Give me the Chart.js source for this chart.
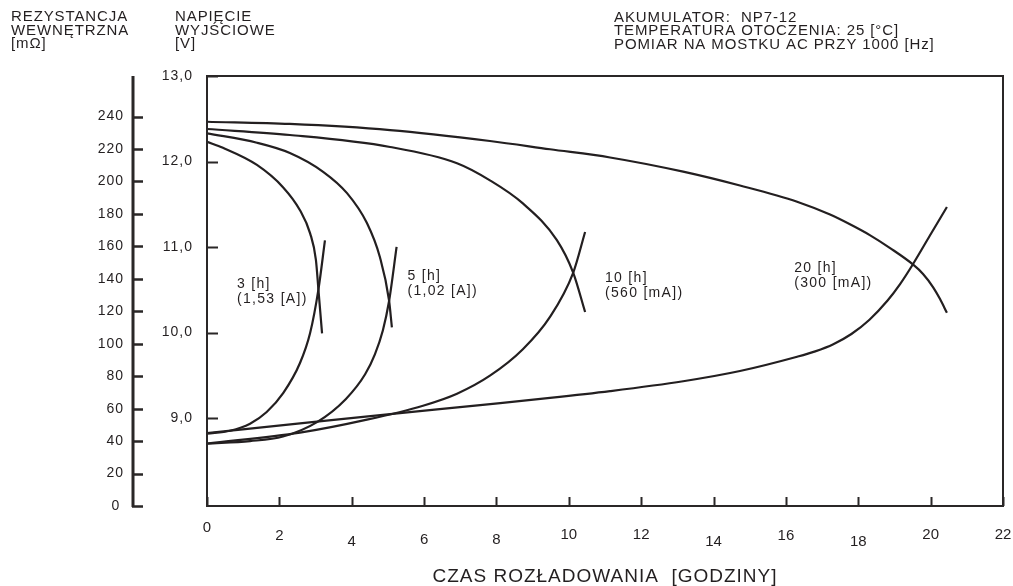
<!DOCTYPE html>
<html>
<head>
<meta charset="utf-8">
<title>NP7-12 – charakterystyka rozładowania</title>
<script src="https://cdn.jsdelivr.net/npm/chart.js@4/dist/chart.umd.min.js"></script>
<style>
  html, body { margin: 0; padding: 0; background: #fff; }
  #wrap { width: 1013px; height: 586px; }
</style>
</head>
<body>
<div id="wrap"><canvas id="chart" width="1013" height="586"></canvas></div>
<script>
// ---- axis ticks -------------------------------------------------------
const xTicks = [0, 2, 4, 6, 8, 10, 12, 14, 16, 18, 20, 22];
const xTickLabels = ['0', '2', '4', '6', '8', '10', '12', '14', '16', '18', '20', '22'];
const voltTicks = [9, 10, 11, 12, 13];
const voltTickLabels = ['9,0', '10,0', '11,0', '12,0', '13,0'];
const resTicks = [0, 20, 40, 60, 80, 100, 120, 140, 160, 180, 200, 220, 240];
const resTickLabels = ['0', '20', '40', '60', '80', '100', '120', '140', '160', '180', '200', '220', '240'];

// ---- discharge curves: time [h] -> voltage [V] ----------------------
const t3V = [0, 0.44, 1.38, 2.10, 2.57, 2.85, 3.01, 3.08, 3.18];
const v3 = [12.23, 12.16, 11.96, 11.70, 11.43, 11.16, 10.85, 10.50, 9.99];
const t5V = [0, 1.38, 2.29, 3.21, 3.87, 4.42, 4.78, 5.03, 5.11];
const v5 = [12.33, 12.22, 12.10, 11.88, 11.63, 11.28, 10.88, 10.38, 10.06];
const t10V = [0, 2.29, 5.06, 6.91, 7.82, 8.73, 9.67, 10.12, 10.45];
const v10 = [12.38, 12.31, 12.17, 11.98, 11.78, 11.51, 11.08, 10.70, 10.24];
const t20V = [0, 2.29, 5.06, 7.82, 9.48, 11.14, 13.16, 14.73, 16.31, 17.22, 17.77, 18.33, 18.88, 19.51, 19.79, 20.07, 20.26, 20.45];
const v20 = [12.465, 12.439, 12.368, 12.240, 12.143, 12.047, 11.881, 11.719, 11.530, 11.379, 11.265, 11.136, 10.987, 10.796, 10.685, 10.529, 10.391, 10.230];

// ---- internal resistance: time [h] -> resistance [mΩ] ---------------
const t3R = [0, 0.64, 1.19, 1.65, 2.11, 2.57, 2.85, 3.08, 3.26];
const r3 = [44.6, 46.4, 50.7, 57.9, 69.7, 88.1, 106.6, 133.5, 163.7];
const t5R = [0, 1.19, 2.10, 3.04, 3.84, 4.37, 4.64, 4.86, 5.03, 5.24];
const r5 = [38.5, 40.0, 42.8, 51.7, 66.0, 81.2, 93.5, 108.2, 126.0, 159.7];
const t10R = [0, 2.57, 4.42, 5.97, 6.91, 7.82, 8.73, 9.48, 10.12, 10.45];
const r10 = [38.5, 45.2, 53.2, 61.8, 69.2, 80.3, 96.6, 116.5, 143.7, 168.9];
const t20R = [0, 2.57, 5.06, 7.55, 9.48, 11.14, 13.16, 14.73, 16.31, 16.81, 17.31, 17.81, 18.31, 18.81, 19.16, 19.51, 19.98, 20.45];
const r20 = [45.0, 50.9, 56.6, 62.2, 66.6, 70.8, 76.9, 83.2, 92.0, 95.3, 99.7, 106.0, 114.8, 126.6, 136.9, 149.0, 166.7, 184.3];

// ---- curve captions (time [h], voltage [V] of the first line) -------
const captions = [
  { lines: ['3 [h]', '(1,53 [A])'], t: 0.83, v: 10.52 },
  { lines: ['5 [h]', '(1,02 [A])'], t: 5.54, v: 10.61 },
  { lines: ['10 [h]', '(560 [mA])'], t: 11.0, v: 10.59 },
  { lines: ['20 [h]', '(300 [mA])'], t: 16.23, v: 10.71 }
];

const headerLeft = ['REZYSTANCJA', 'WEWNĘTRZNA', '[mΩ]'];
const headerMid = ['NAPIĘCIE', 'WYJŚCIOWE', '[V]'];
const headerRight = ['AKUMULATOR:  NP7-12', 'TEMPERATURA OTOCZENIA: 25 [°C]', 'POMIAR NA MOSTKU AC PRZY 1000 [Hz]'];
const xTitle = 'CZAS ROZŁADOWANIA  [GODZINY]';

// ---------------------------------------------------------------------
const FONT = "'Liberation Sans', Arial, Helvetica, sans-serif";
const INK = '#231f20';

function pts(xs, ys) { return xs.map((x, i) => ({ x: x, y: ys[i] })); }

function curve(xs, ys, axis) {
  return {
    data: pts(xs, ys),
    yAxisID: axis,
    borderColor: INK,
    borderWidth: 2.2,
    pointRadius: 0,
    fill: false,
    cubicInterpolationMode: 'monotone'
  };
}

Chart.defaults.font.family = FONT;
Chart.defaults.color = INK;

const decor = {
  id: 'decor',
  beforeDraw(chart) {
    chart.ctx.letterSpacing = '1px';
  },
  afterDraw(chart) {
    const ctx = chart.ctx;
    const area = chart.chartArea;
    const sx = chart.scales.x, sv = chart.scales.yV, sr = chart.scales.yR;
    ctx.save();
    ctx.strokeStyle = '#2a2727';
    ctx.fillStyle = INK;

    // plot frame
    ctx.lineWidth = 2;
    ctx.strokeRect(area.left, area.top, area.right - area.left, area.bottom - area.top);

    // voltage ticks, drawn inward from the frame
    ctx.beginPath();
    voltTicks.forEach(v => {
      const y = Math.round(sv.getPixelForValue(v)) + 0.5;
      ctx.moveTo(area.left, y);
      ctx.lineTo(area.left + 11, y);
    });
    // time ticks, drawn upward from the frame bottom
    xTicks.forEach(t => {
      const x = Math.round(sx.getPixelForValue(t)) + 0.5;
      ctx.moveTo(x, area.bottom);
      ctx.lineTo(x, area.bottom - 9);
    });
    ctx.stroke();

    // resistance axis: separate spine with ticks pointing right
    const spineX = 133;
    ctx.lineWidth = 3;
    ctx.beginPath();
    ctx.moveTo(spineX, area.top);
    ctx.lineTo(spineX, area.bottom + 1);
    ctx.stroke();
    ctx.lineWidth = 2.4;
    ctx.beginPath();
    resTicks.forEach(r => {
      const y = Math.round(sr.getPixelForValue(r)) + 0.5;
      ctx.moveTo(spineX - 1, y);
      ctx.lineTo(spineX + 10, y);
    });
    ctx.stroke();

    // time tick labels (slightly staggered baselines)
    const drop = [-7, 1, 7, 5, 5, 0, 0, 7, 1, 7, 0, 0];
    ctx.font = '15px ' + FONT;
    ctx.letterSpacing = '0px';
    ctx.textAlign = 'center';
    ctx.textBaseline = 'alphabetic';
    xTicks.forEach((t, i) => {
      ctx.fillText(xTickLabels[i], sx.getPixelForValue(t), area.bottom + 33 + drop[i]);
    });

    // curve captions
    ctx.font = '14px ' + FONT;
    ctx.letterSpacing = '1.3px';
    ctx.textAlign = 'left';
    captions.forEach(c => {
      const x = sx.getPixelForValue(c.t);
      const y = sv.getPixelForValue(c.v);
      c.lines.forEach((line, i) => ctx.fillText(line, x, y + i * 15));
    });

    // header blocks
    ctx.font = '15px ' + FONT;
    ctx.letterSpacing = '0.9px';
    headerLeft.forEach((line, i) => ctx.fillText(line, 11, 21 + i * 13.5));
    headerMid.forEach((line, i) => ctx.fillText(line, 175, 21 + i * 13.5));
    headerRight.forEach((line, i) => ctx.fillText(line, 614, 21.5 + i * 13.5));
    ctx.restore();
  }
};

new Chart(document.getElementById('chart'), {
  type: 'line',
  data: {
    datasets: [
      curve(t3V, v3, 'yV'), curve(t5V, v5, 'yV'), curve(t10V, v10, 'yV'), curve(t20V, v20, 'yV'),
      curve(t3R, r3, 'yR'), curve(t5R, r5, 'yR'), curve(t10R, r10, 'yR'), curve(t20R, r20, 'yR')
    ]
  },
  options: {
    responsive: false,
    devicePixelRatio: 1,
    animation: false,
    events: [],
    layout: { padding: { left: 0, right: 10, top: 76, bottom: 0 } },
    plugins: { legend: { display: false }, tooltip: { enabled: false }, title: { display: false } },
    scales: {
      x: {
        type: 'linear', min: 0, max: 22,
        grid: { display: false, drawTicks: false },
        border: { display: false },
        ticks: { display: false },
        title: {
          display: true, text: xTitle, color: INK,
          font: { size: 19, lineHeight: 1 }, padding: { top: 0, bottom: 0 }
        },
        afterFit(s) { s.height = 80; }
      },
      yR: {
        type: 'linear', position: 'left', weight: 1, min: 0, max: 265,
        grid: { display: false, drawTicks: false },
        border: { display: false },
        afterBuildTicks(s) { s.ticks = resTicks.map(v => ({ value: v })); },
        ticks: {
          padding: 16, font: { size: 14 }, color: INK,
          callback: (v, i) => (v === 0 ? resTickLabels[i] + '\u2009' : resTickLabels[i])
        },
        afterFit(s) { s.width = 140; }
      },
      yV: {
        type: 'linear', position: 'left', weight: 0, min: 7.971, max: 13,
        grid: { display: false, drawTicks: false },
        border: { display: false },
        afterBuildTicks(s) { s.ticks = voltTicks.map(v => ({ value: v })); },
        ticks: {
          padding: 14, font: { size: 14 }, color: INK,
          callback: (v, i) => voltTickLabels[i]
        },
        afterFit(s) { s.width = 67; }
      }
    }
  },
  plugins: [decor]
});
</script>
</body>
</html>
